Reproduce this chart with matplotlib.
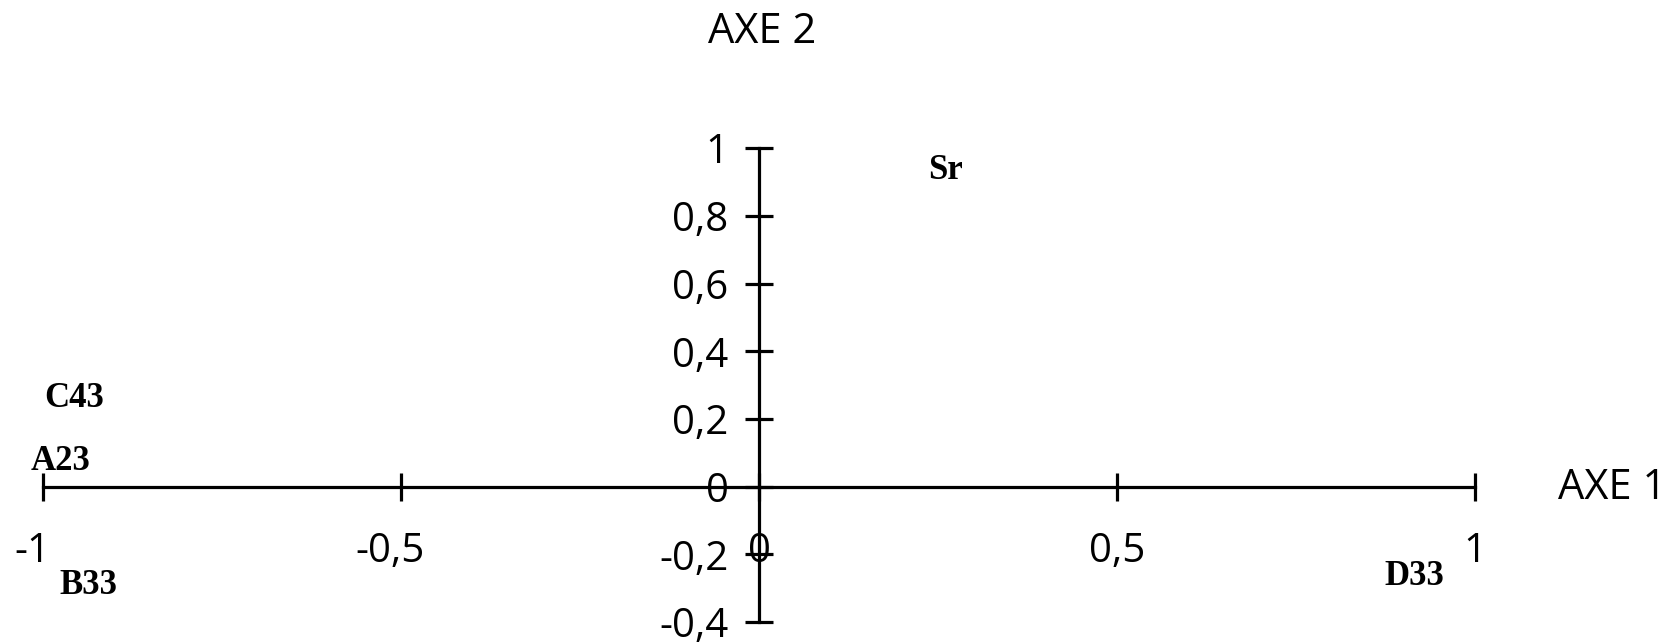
import matplotlib.pyplot as plt
import matplotlib.transforms as mtransforms
import numpy as np

plt.rcParams["axes.unicode_minus"] = False

# ---------------------------------------------------------------------------
# Data: variable coordinates on the first two factorial axes
# ---------------------------------------------------------------------------
names = ["Sr", "C43", "A23", "B33", "D33"]
axe1 = [0.26, -0.957, -0.975, -0.937, 0.916]
axe2 = [0.933, 0.26, 0.073, -0.293, -0.267]

x_ticks = [-1, -0.5, 0, 0.5, 1]
y_ticks = [-0.4, -0.2, 0, 0.2, 0.4, 0.6, 0.8, 1]


def fr(v):
    # french decimal comma
    s = ("%g" % v).replace(".", ",")
    return s


fig = plt.figure(figsize=(16.79, 6.44), dpi=100)
ax = fig.add_axes([0, 0, 1, 1])
ax.set_xlim(-1.060, 1.285)
ax.set_ylim(-0.465, 1.438)

# axes crossing at the origin
for side in ["top", "right"]:
    ax.spines[side].set_visible(False)
ax.spines["left"].set_position(("data", 0))
ax.spines["bottom"].set_position(("data", 0))
ax.spines["left"].set_bounds(-0.4, 1)
ax.spines["bottom"].set_bounds(-1, 1)
for side in ["left", "bottom"]:
    ax.spines[side].set_linewidth(2.3)
    ax.spines[side].set_color("black")

ax.set_xticks(x_ticks)
ax.set_xticklabels([fr(v) for v in x_ticks])
ax.set_yticks(y_ticks)
ax.set_yticklabels([fr(v) for v in y_ticks])
ax.tick_params(axis="x", direction="inout", length=20, width=2.3, pad=22,
               labelsize=29)
ax.tick_params(axis="y", direction="inout", length=20, width=2.3, pad=12,
               labelsize=29)
for lab in ax.get_xticklabels() + ax.get_yticklabels():
    lab.set_fontfamily("Open Sans")

# negative x labels: number centred on the tick, minus hanging to the left
shift = mtransforms.ScaledTranslation(-0.11, 0, fig.dpi_scale_trans)
for v, lab in zip(x_ticks, ax.get_xticklabels()):
    if v < 0:
        lab.set_transform(lab.get_transform() + shift)

# point labels (text only, as in the original)
for n, x, y in zip(names, axe1, axe2):
    ax.text(x, y, n, ha="center", va="center", fontsize=25,
            fontweight="bold", family="Liberation Serif")

# axis titles
ax.text(0.004, 1.344, "AXE 2", ha="center", va="center", fontsize=30,
        family="Open Sans")
ax.text(1.116, -0.004, "AXE 1", ha="left", va="center", fontsize=30,
        family="Open Sans")

fig.savefig("out.png", dpi=100)
